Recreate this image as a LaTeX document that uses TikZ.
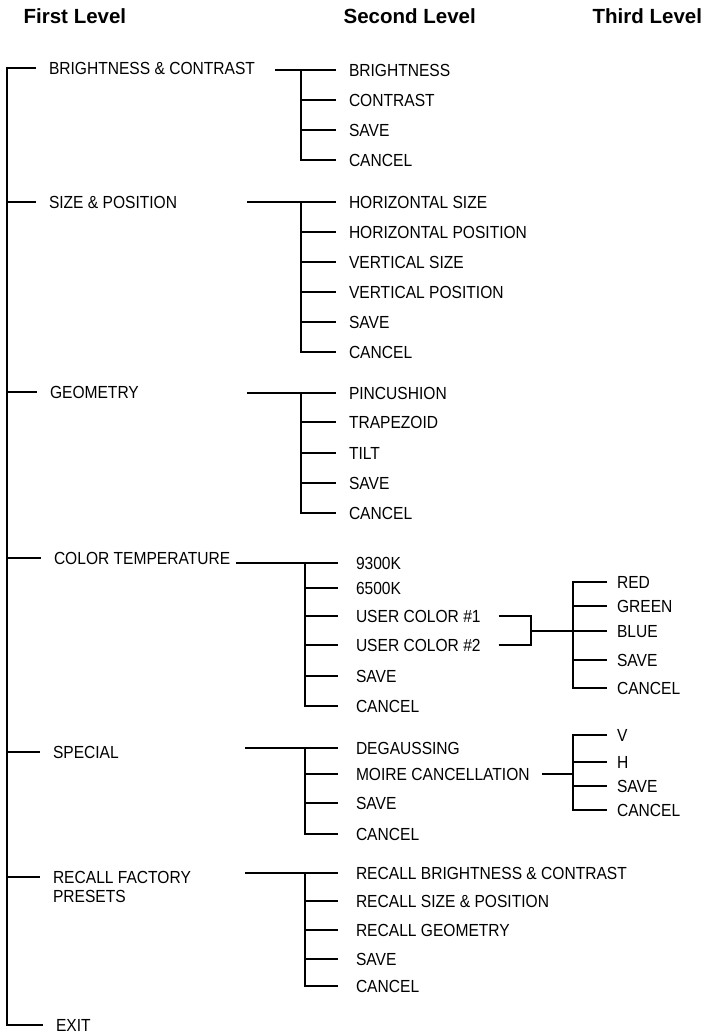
\documentclass[tikz,border=0pt]{standalone}
\usepackage{fontspec}
\setmainfont{Liberation Sans}
\newfontfamily\narrowfam{Liberation Sans}[FakeStretch=0.89]
\usepackage{tikz}
\usetikzlibrary{calc}

\newcommand\entryfont{\narrowfam\fontsize{17.5}{19}\selectfont}
\newcommand\headfont{\fontsize{20.5}{24}\selectfont\bfseries}

\begin{document}
\begin{tikzpicture}[x=1pt,y=-1pt,line width=1.3pt,
    entry/.style={anchor=west,inner sep=0pt,outer xsep=#1,text height=12.5pt,text depth=0pt,font=\entryfont},
    entry/.default=13pt,
    head/.style={anchor=west,inner sep=0pt,text height=14.6pt,text depth=0pt,font=\headfont}]

    \useasboundingbox (0,0) rectangle (705,1034);

    \node[head] (h1) at (23,16.5) {First Level};
    \node[head] (h2) at (343,16.5) {Second Level};
    \node[head] (h3) at (592,16.5) {Third Level};

    % first level
    \node[entry] (bc) at (36,68) {BRIGHTNESS \& CONTRAST};
    \node[entry] (sp) at (36,202) {SIZE \& POSITION};
    \node[entry] (geo) at (37,392) {GEOMETRY};
    \node[entry] (ct) at (41,558) {COLOR TEMPERATURE};
    \node[entry] (spc) at (40,752) {SPECIAL};
    \node[anchor=north west,inner sep=0pt,outer xsep=13pt,align=left,font=\entryfont] (rf) at (40,870.8) {RECALL FACTORY\\PRESETS};
    \node[entry] (ex) at (43,1025) {EXIT};
    \coordinate (top) at (7,68);
    \path (rf.north west) ++(0,6.2) coordinate (rfl);
    \draw (bc.west) -- (top) |- (ex.west);
    \draw (top |- sp) -- (sp.west);
    \draw (top |- geo) -- (geo.west);
    \draw (top |- ct) -- (ct.west);
    \draw (top |- spc) -- (spc.west);
    \draw (top |- rfl) -- (rfl);

    % brightness & contrast
    \node[entry] (bc1) at (336,70) {BRIGHTNESS};
    \node[entry] (bc2) at (336,100) {CONTRAST};
    \node[entry] (bc3) at (336,130) {SAVE};
    \node[entry] (bc4) at (336,160) {CANCEL};
    \coordinate (bcs) at (275,70);
    \coordinate (bcj) at (301,70);
    \draw (bcs) -- (bc1.west);
    \draw (bcj) |- (bc4.west);
    \draw (bcj |- bc2) -- (bc2.west);
    \draw (bcj |- bc3) -- (bc3.west);

    % size & position
    \node[entry] (sp1) at (336,202) {HORIZONTAL SIZE};
    \node[entry] (sp2) at (336,232) {HORIZONTAL POSITION};
    \node[entry] (sp3) at (336,262) {VERTICAL SIZE};
    \node[entry] (sp4) at (336,292) {VERTICAL POSITION};
    \node[entry] (sp5) at (336,322) {SAVE};
    \node[entry] (sp6) at (336,352) {CANCEL};
    \coordinate (sps) at (247,202);
    \coordinate (spj) at (301,202);
    \draw (sps) -- (sp1.west);
    \draw (spj) |- (sp6.west);
    \draw (spj |- sp2) -- (sp2.west);
    \draw (spj |- sp3) -- (sp3.west);
    \draw (spj |- sp4) -- (sp4.west);
    \draw (spj |- sp5) -- (sp5.west);

    % geometry
    \node[entry] (geo1) at (336,393) {PINCUSHION};
    \node[entry] (geo2) at (336,422) {TRAPEZOID};
    \node[entry] (geo3) at (336,453) {TILT};
    \node[entry] (geo4) at (336,483) {SAVE};
    \node[entry] (geo5) at (336,513) {CANCEL};
    \coordinate (geos) at (247,393);
    \coordinate (geoj) at (301,393);
    \draw (geos) -- (geo1.west);
    \draw (geoj) |- (geo5.west);
    \draw (geoj |- geo2) -- (geo2.west);
    \draw (geoj |- geo3) -- (geo3.west);
    \draw (geoj |- geo4) -- (geo4.west);

    % color temperature
    \node[entry=18pt] (ct1) at (338,563) {9300K};
    \node[entry=18pt] (ct2) at (338,588) {6500K};
    \node[entry=18pt] (ct3) at (338,616) {USER COLOR \#1};
    \node[entry=18pt] (ct4) at (338,645) {USER COLOR \#2};
    \node[entry=18pt] (ct5) at (338,676) {SAVE};
    \node[entry=18pt] (ct6) at (338,706) {CANCEL};
    \coordinate (cts) at (236,563);
    \coordinate (ctj) at (305,563);
    \draw (cts) -- (ct1.west);
    \draw (ctj) |- (ct6.west);
    \draw (ctj |- ct2) -- (ct2.west);
    \draw (ctj |- ct3) -- (ct3.west);
    \draw (ctj |- ct4) -- (ct4.west);
    \draw (ctj |- ct5) -- (ct5.west);

    \node[entry=10pt] (uc1) at (607,582) {RED};
    \node[entry=10pt] (uc2) at (607,606) {GREEN};
    \node[entry=10pt] (uc3) at (607,631) {BLUE};
    \node[entry=10pt] (uc4) at (607,660) {SAVE};
    \node[entry=10pt] (uc5) at (607,688) {CANCEL};
    \coordinate (ucb) at (531,631);
    \coordinate (ucj) at (573,582);
    \draw (ct3.east) -| (ucb);
    \draw (ct4.east) -| (ucb);
    \draw (ucb) -- (uc3.west);
    \draw (uc1.west) -- (ucj) |- (uc5.west);
    \draw (ucj |- uc2) -- (uc2.west);
    \draw (ucj |- uc4) -- (uc4.west);

    % special
    \node[entry=18pt] (spc1) at (338,748) {DEGAUSSING};
    \node[entry=18pt] (spc2) at (338,774) {MOIRE CANCELLATION};
    \node[entry=18pt] (spc3) at (338,803) {SAVE};
    \node[entry=18pt] (spc4) at (338,834) {CANCEL};
    \coordinate (spcs) at (245,748);
    \coordinate (spcj) at (305,748);
    \draw (spcs) -- (spc1.west);
    \draw (spcj) |- (spc4.west);
    \draw (spcj |- spc2) -- (spc2.west);
    \draw (spcj |- spc3) -- (spc3.west);

    \node[entry=10pt] (mc1) at (607,735) {V};
    \node[entry=10pt] (mc2) at (607,762) {H};
    \node[entry=10pt] (mc3) at (607,786) {SAVE};
    \node[entry=10pt] (mc4) at (607,810) {CANCEL};
    \coordinate (mcs) at (542,774);
    \coordinate (mcj) at (573,735);
    \draw (mcs) -- (mcj |- mcs);
    \draw (mc1.west) -- (mcj) |- (mc4.west);
    \draw (mcj |- mc2) -- (mc2.west);
    \draw (mcj |- mc3) -- (mc3.west);

    % recall factory presets
    \node[entry=18pt] (rf1) at (338,873) {RECALL BRIGHTNESS \& CONTRAST};
    \node[entry=18pt] (rf2) at (338,901) {RECALL SIZE \& POSITION};
    \node[entry=18pt] (rf3) at (338,930) {RECALL GEOMETRY};
    \node[entry=18pt] (rf4) at (338,959) {SAVE};
    \node[entry=18pt] (rf5) at (338,986) {CANCEL};
    \coordinate (rfs) at (245,873);
    \coordinate (rfj) at (305,873);
    \draw (rfs) -- (rf1.west);
    \draw (rfj) |- (rf5.west);
    \draw (rfj |- rf2) -- (rf2.west);
    \draw (rfj |- rf3) -- (rf3.west);
    \draw (rfj |- rf4) -- (rf4.west);

\end{tikzpicture}
\end{document}
